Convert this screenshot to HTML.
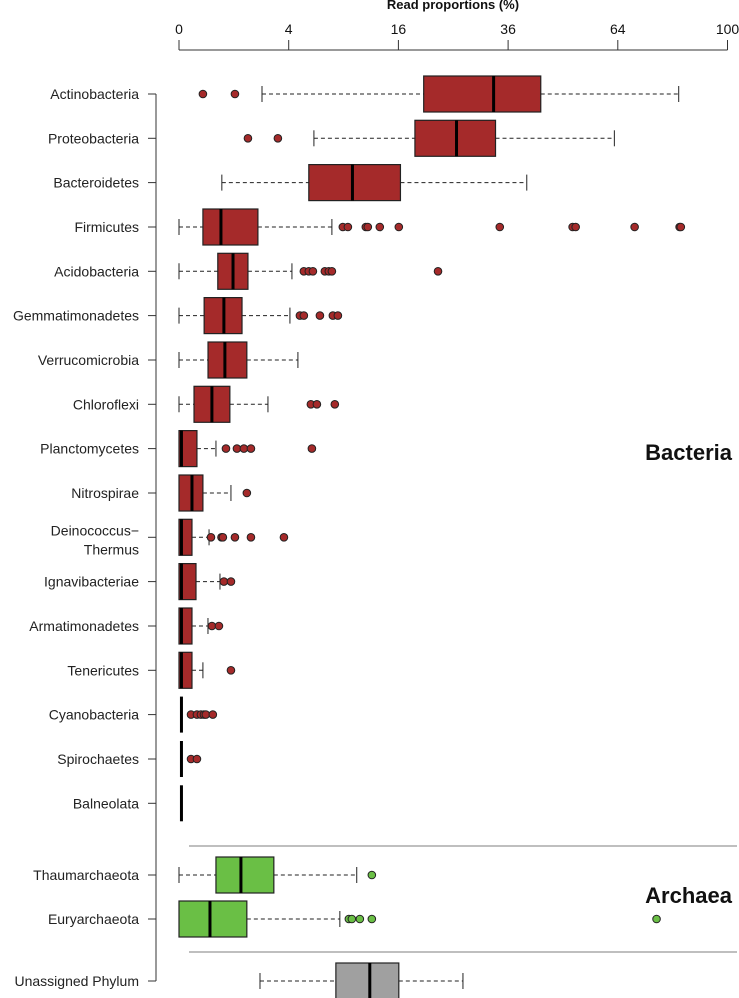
<!DOCTYPE html>
<html><head><meta charset="utf-8"><style>
html,body{margin:0;padding:0;background:#fff;}
svg{display:block;font-family:"Liberation Sans",Arial,sans-serif;}
</style></head><body>
<svg id="chart" width="739" height="998" viewBox="0 0 739 998" xmlns="http://www.w3.org/2000/svg"></svg>
<script>
const categories=["Actinobacteria","Proteobacteria","Bacteroidetes","Firmicutes","Acidobacteria","Gemmatimonadetes","Verrucomicrobia","Chloroflexi","Planctomycetes","Nitrospirae","Deinococcus\u2212Thermus","Ignavibacteriae","Armatimonadetes","Tenericutes","Cyanobacteria","Spirochaetes","Balneolata","Thaumarchaeota","Euryarchaeota","Unassigned Phylum"];
const groups=["bacteria","bacteria","bacteria","bacteria","bacteria","bacteria","bacteria","bacteria","bacteria","bacteria","bacteria","bacteria","bacteria","bacteria","bacteria","bacteria","bacteria","archaea","archaea","unassigned"];
const whiskerLow=[2.29,6.05,0.61,0,0,0,0,0,0,0,0,0,0,0,0,0,0,0,0,2.18];
const q1Values=[19.9,18.5,5.6,0.19,0.5,0.21,0.28,0.075,0,0,0,0,0,0,0,0,0,0.454,0,8.18];
const medianValues=[32.9,25.6,10.0,0.585,0.97,0.67,0.70,0.36,0.002,0.056,0.002,0.002,0.002,0.002,0.002,0.002,0.002,1.275,0.319,12.1];
const q3Values=[43.5,33.3,16.3,2.07,1.58,1.32,1.53,0.86,0.107,0.19,0.056,0.096,0.056,0.056,0,0,0,2.99,1.53,16.06];
const whiskerHigh=[83,63,40.2,7.77,4.24,4.09,4.70,2.63,0.454,0.897,0.30,0.558,0.279,0.19,0,0,0,10.5,8.6,26.8];
const outlierValues=[[0.19,1.04],[1.58,3.25],[],[8.92,9.48,11.6,11.85,13.4,16.06,34.2,51.5,52.3,69,83.3,83.7],[5.18,5.6,5.96,7.07,7.46,7.77,22.3],[4.86,5.18,6.6,7.87,8.39],[],[5.78,6.32,8.07],[0.733,1.116,1.4,1.72,5.87],[1.53],[0.34,0.6,0.64,1.04,1.72,3.66],[0.67,0.897],[0.36,0.53],[0.897],[0.048,0.107,0.16,0.207,0.24,0.38],[0.048,0.107],[],[12.36],[9.59,9.93,10.87,12.36,75.8],[]];
const tickValues=[0,4,16,36,64,100];
const tickLabels=["0","4","16","36","64","100"];

const svg=document.getElementById('chart');
const NS='http://www.w3.org/2000/svg';
function mk(tag,attrs,parent){const e=document.createElementNS(NS,tag);for(const k in attrs)e.setAttribute(k,attrs[k]);(parent||svg).appendChild(e);return e;}
const x0=179,x1=727.5;
function xs(v){return x0+Math.sqrt(Math.max(v,0))/10*(x1-x0);}
const rowY=[94,138.3,182.6,227,271.3,315.6,360,404.3,448.6,493,537.3,581.6,626,670.3,714.6,759,803.3,875,919,981];
const colors={bacteria:"#a52a2a",archaea:"#6abf45",unassigned:"#a0a0a0"};

const ax=mk('g',{});


mk('line',{x1:xs(0),x2:xs(100),y1:50,y2:50,stroke:'#333','stroke-width':1},ax);
tickValues.forEach((v,i)=>{
  mk('line',{x1:xs(v),x2:xs(v),y1:40,y2:50,stroke:'#333'},ax);
  const t=mk('text',{x:xs(v),y:34,'text-anchor':'middle','font-size':14,fill:'#111'},ax);
  
  
  t.textContent=tickLabels[i];
});
const ttl=mk('text',{x:453,y:9,'text-anchor':'middle','font-size':13,'font-weight':'bold',fill:'#111'});


ttl.textContent='Read proportions (%)';

const ly=mk('g',{});


mk('line',{x1:156,x2:156,y1:rowY[0],y2:rowY[rowY.length-1],stroke:'#333'},ly);

[846,952].forEach(y=>{const l=mk('line',{x1:189,x2:737,y1:y,y2:y,stroke:'#999','stroke-width':1.3});

});

categories.forEach((c,i)=>{
  const y=rowY[i];
  mk('line',{x1:148,x2:156,y1:y,y2:y,stroke:'#333'},ly);
  const lab=mk('text',{x:139,y:y+5,'text-anchor':'end','font-size':14,fill:'#222'},ly);
  
  
  if(c.indexOf('\u2212')>=0){
    const parts=c.split('\u2212');
    lab.setAttribute('y',y-2);
    const a=mk('tspan',{x:139},lab);a.textContent=parts[0]+'\u2212';
    const b=mk('tspan',{x:139,dy:19},lab);b.textContent=parts[1];
  } else lab.textContent=c;

  const g=mk('g',{});
  
  
  const col=colors[groups[i]];
  const h=18;
  const xl=xs(whiskerLow[i]),xq1=xs(q1Values[i]),xm=xs(medianValues[i]),xq3=xs(q3Values[i]),xh=xs(whiskerHigh[i]);
  if(xq1-xl>0.5){mk('line',{x1:xl,x2:xq1,y1:y,y2:y,stroke:'#222','stroke-dasharray':'4,3'},g);}
  if(xh-xq3>0.5){mk('line',{x1:xq3,x2:xh,y1:y,y2:y,stroke:'#222','stroke-dasharray':'4,3'},g);}
  if(xq1-xl>0.5||xh-xq3>0.5){
    mk('line',{x1:xl,x2:xl,y1:y-8,y2:y+8,stroke:'#222'},g);
    mk('line',{x1:xh,x2:xh,y1:y-8,y2:y+8,stroke:'#222'},g);
  }
  if(xq3-xq1>0.5) mk('rect',{x:xq1,y:y-h,width:xq3-xq1,height:2*h,fill:col,stroke:'#222','stroke-width':1.2},g);
  mk('line',{x1:xm,x2:xm,y1:y-h,y2:y+h,stroke:'#000','stroke-width':3},g);
  outlierValues[i].forEach(v=>{
    const p=mk('circle',{cx:xs(v),cy:y,r:3.8,fill:col,stroke:'#222','stroke-width':1},g);
    
    
  });
});

const bt=mk('text',{x:732,y:460,'text-anchor':'end','font-size':22,'font-weight':'bold',fill:'#111'});


bt.textContent='Bacteria';
const at=mk('text',{x:732,y:903,'text-anchor':'end','font-size':22,'font-weight':'bold',fill:'#111'});


at.textContent='Archaea';
</script>
</body></html>
